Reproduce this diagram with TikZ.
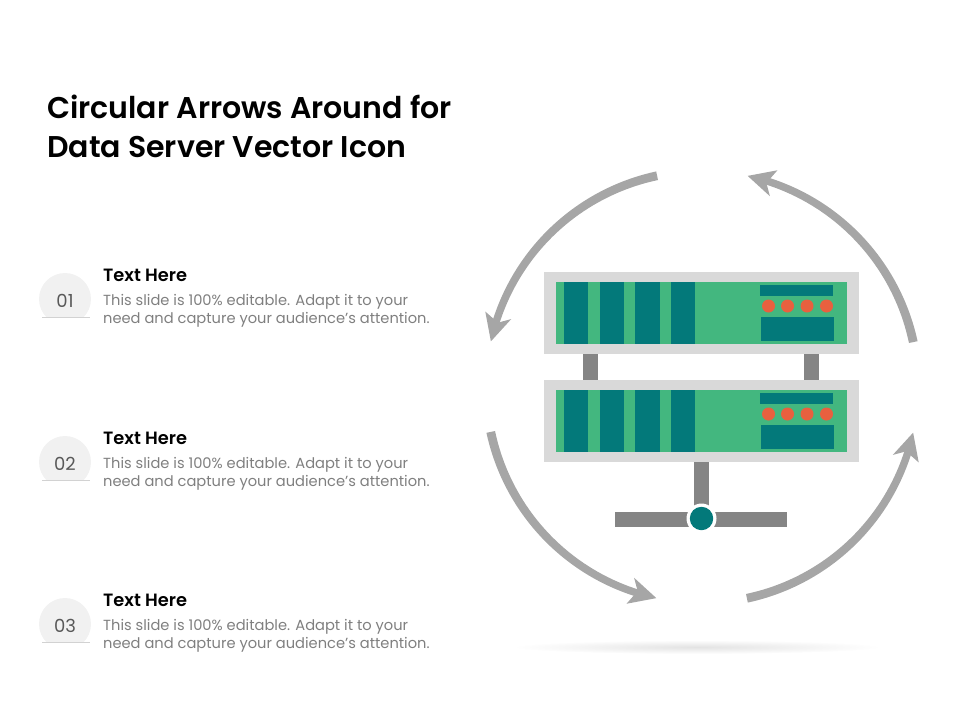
\documentclass[tikz,border=0pt]{standalone}
\usepackage{fontspec}
\setmainfont{Poppins}
\newfontfamily\semibold{Poppins SemiBold}
\definecolor{arrowgray}{HTML}{A6A6A6}
\definecolor{framegray}{HTML}{D9D9D9}
\definecolor{postgray}{HTML}{858585}
\definecolor{srvgreen}{HTML}{43B77F}
\definecolor{srvteal}{HTML}{03797A}
\definecolor{srvred}{HTML}{E8603F}
\definecolor{badge}{HTML}{F1F1F1}
\definecolor{badgeline}{HTML}{D2D2D2}
\definecolor{numgray}{HTML}{595959}
\definecolor{bodygray}{HTML}{7F7F7F}
\tikzset{
  titletext/.style={anchor=base west,inner sep=0pt,text=black,font=\fontsize{30}{30}\selectfont\semibold},
  headtext/.style={anchor=base west,inner sep=0pt,text=black,font=\fontsize{17.8}{17.8}\selectfont\semibold},
  bodytext/.style={anchor=base west,inner sep=0pt,text=bodygray,font=\fontsize{14.65}{14.65}\selectfont},
  numtext/.style={anchor=base,inner sep=0pt,text=numgray,font=\fontsize{18}{18}\selectfont},
  srvtealfill/.style={fill=srvteal,draw=none},
}
\newcommand{\circarrow}[1]{%
  \begin{scope}[shift={(702,387)},rotate=#1]
    \fill[arrowgray] plot[domain=258:197,samples=40] (\x:{220.4-0.012*(258-\x)}) --
      plot[domain=197:258,samples=40] (\x:{211.6+0.012*(258-\x)}) -- cycle;
    \fill[arrowgray] (192.2:216) -- (199.2:229.5) -- (197.5:214) -- (199.6:202.5) -- cycle;
  \end{scope}}
\newcommand{\serverunit}[1]{%
  \begin{scope}[yshift=#1]
    \fill[framegray] (544,272) rectangle (859,354);
    \fill[srvgreen] (556,282) rectangle (847,344);
    \foreach \a/\b in {564/588,600/624,635/660,671/695}
      \fill[srvtealfill] (\a,282) rectangle (\b,344);
    \fill[srvtealfill] (760,285) rectangle (833,296);
    \fill[srvtealfill] (761,317) rectangle (834,341);
    \foreach \cx in {768.5,787.5,807,826.5}
      \fill[srvred] (\cx,306) circle[radius=6.5];
  \end{scope}}
\newcommand{\rowitem}[3]{%
  \begin{scope}[yshift=#1]
    \begin{scope}
      \clip (30,265) rectangle (100,317);
      \fill[badge] (65,299) circle[radius=26];
    \end{scope}
    \draw[badgeline,line width=0.8pt] (42,317.5) -- (90,317.5);
    \node[numtext] (num#3) at (65,307) {#2};
    \node[headtext] (head#3) at (103,281.5) {Text Here};
    \node[bodytext] (bodya#3) at (103,305.5) {This slide is 100\% editable. Adapt it to your};
    \node[bodytext] (bodyb#3) at (103,323.7) {need and capture your audience’s attention.};
  \end{scope}}
\begin{document}
\begin{tikzpicture}[x=1pt,y=1pt,yscale=-1]
\useasboundingbox (0,0) rectangle (960,720);
\node[titletext] (titlea) at (47,118) {Circular Arrows Around for};
\node[titletext] (titleb) at (47,157) {Data Server Vector Icon};
\rowitem{0pt}{01}{a}
\rowitem{163pt}{02}{b}
\rowitem{325pt}{03}{c}
\shade[inner color=black!11,outer color=white] (697,647) ellipse[x radius=184,y radius=7];
\circarrow{0}
\circarrow{-90}
\circarrow{-180}
\circarrow{-270}
\fill[postgray] (583,354) rectangle (598,380);
\fill[postgray] (804,354) rectangle (819,380);
\serverunit{0pt}
\serverunit{108pt}
\fill[postgray] (694,462) rectangle (709,512);
\fill[postgray] (615,512) rectangle (787,527);
\fill[white] (701.5,518.5) circle[radius=15];
\fill[srvteal] (701.5,518.5) circle[radius=11.7];
\end{tikzpicture}
\end{document}
